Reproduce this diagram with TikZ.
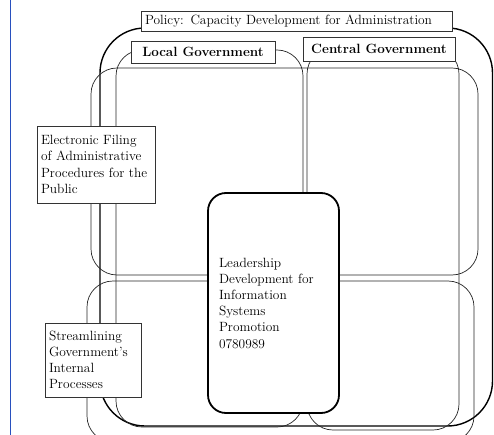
\documentclass[tikz,border=0pt]{standalone}
\usetikzlibrary{positioning}
\definecolor{marginblue}{RGB}{40,80,190}
\newcommand{\bigtext}{\fontsize{13.4}{16.2}\selectfont}

\begin{document}
\begin{tikzpicture}[x=1pt, y=-1pt, font=\bigtext,
        region/.style={draw=black!85, line width=0.7pt, rounded corners=26pt},
        tag/.style={draw=black!80, rectangle, fill=white, line width=0.6pt, inner sep=4pt},
        boldtag/.style={tag, font=\bigtext\bfseries, inner sep=2pt}]
        \useasboundingbox (0,0) rectangle (494,435);
        \clip (0,0) rectangle (494,435);

        \draw[marginblue, line width=1pt] (10,0) -- (10,435);

        % policy frame
        \draw[line width=1.4pt, rounded corners=45pt] (100,28) rectangle (492.5,426);

        % columns
        \draw[region] (116,50) rectangle (303,427);
        \draw[region] (307,48) rectangle (459,430);

        % rows
        \draw[region] (91,68) rectangle (478,275);
        \draw[region] (87,281) rectangle (474,442);

        % labels
        \node[tag, text width=303pt, align=left, minimum height=19pt] (policy) at (296.5,21.5) {Policy: Capacity Development for Administration};
        \node[boldtag, minimum width=144pt, minimum height=22pt] (localgov) at (203,52) {Local Government};
        \node[boldtag, minimum width=152pt, minimum height=24pt] (centralgov) at (379,49) {Central Government};

        \node[tag, text width=110pt, align=left, minimum height=77pt] (efiling) at (96,164.5) {Electronic Filing\\of Administrative\\Procedures for the\\Public};
        \node[tag, text width=88pt, align=left, minimum height=74pt] (streamline) at (93,360) {Streamlining\\Government's\\Internal\\Processes};

        \node[draw, rectangle, fill=white, line width=1.8pt, rounded corners=18pt, inner xsep=11pt,
              text width=109pt, align=left, minimum height=220pt] (leadership) at (273.5,303) {Leadership\\Development for\\Information\\Systems\\Promotion\\0780989};
    \end{tikzpicture}
\end{document}
